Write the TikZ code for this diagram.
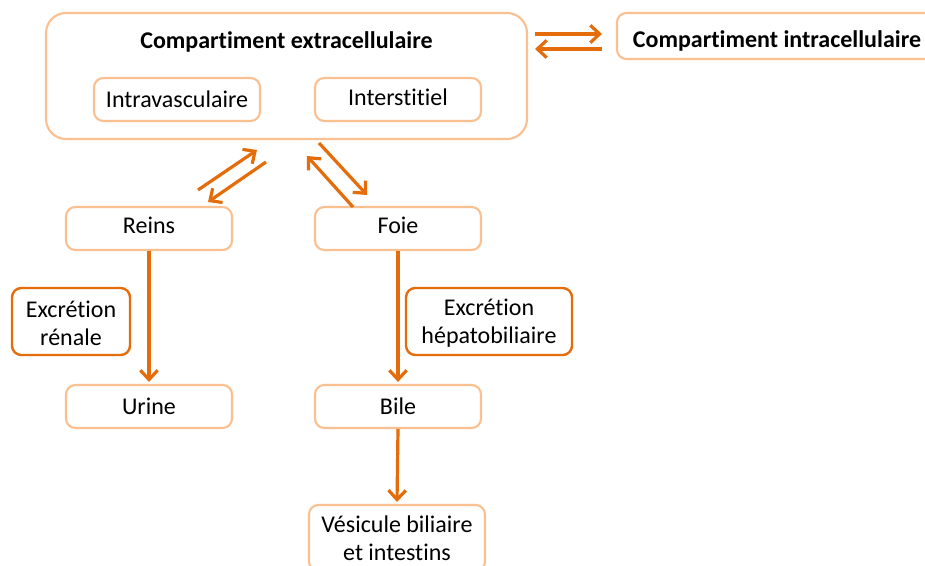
\documentclass[tikz,border=0pt]{standalone}
\usepackage{fontspec}
\setmainfont[Ligatures=NoCommon]{Carlito}
\usetikzlibrary{arrows.meta}
\definecolor{lightor}{RGB}{250,192,144}
\definecolor{darkor}{RGB}{228,108,10}
\tikzset{
  lbox/.style={draw=lightor, line width=1.6pt, rounded corners=7pt, fill=white, inner sep=0pt},
  dbox/.style={draw=darkor, line width=1.8pt, rounded corners=7pt, fill=white, inner sep=0pt, align=center},
  arr/.style={draw=darkor, line width=2.4pt, -{Straight Barb[length=7pt,width=13pt,line width=2.4pt]}},
  txt/.style={font=\fontsize{18pt}{21pt}\selectfont},
  btxt/.style={font=\bfseries\fontsize{18pt}{21pt}\selectfont},
  smallbox/.style={lbox, txt, minimum width=166*0.75pt, minimum height=43*0.75pt},
}
\begin{document}
\begin{tikzpicture}[x=0.75pt,y=-0.75pt]
\useasboundingbox (0,0) rectangle (925,566);
\begin{scope}
\clip (0,0) rectangle (925,566);
% outer box
\node[lbox, rounded corners=15pt, minimum width=481*0.75pt, minimum height=126*0.75pt] (ext) at (286.5,76) {};
\node[btxt] (extl) at (286.5,42) {Compartiment extracellulaire};
\node[smallbox] (intra) at (177,99.5) {Intravasculaire};
\node[smallbox, text height=9pt, text depth=0pt] (inter) at (398,99.5) {Interstitiel};
\node[lbox, btxt, minimum width=320*0.75pt, minimum height=46*0.75pt, text height=18pt, text depth=0pt] (icell) at (777,36) {Compartiment intracellulaire};
\node[smallbox, text height=7pt, text depth=0pt] (reins) at (149,228.5) {Reins};
\node[smallbox, text height=7pt, text depth=0pt] (foie) at (398,228.5) {Foie};
\node[smallbox] (urine) at (149,406.5) {Urine};
\node[smallbox] (bile) at (398,406.5) {Bile};
\node[lbox, txt, align=center, minimum width=176*0.75pt, minimum height=66*0.75pt] (ves) at (397,538) {V\'esicule biliaire\\et intestins};
\node[dbox, minimum width=118*0.75pt, minimum height=67*0.75pt] (exr) at (71,321.5) {};
\node[txt, align=center] (exrt) at ([yshift=-1.5pt]exr.center) {Excr\'etion\\r\'enale};
\node[dbox, minimum width=166*0.75pt, minimum height=67*0.75pt] (exh) at (489,321.5) {};
\node[txt, align=center] (exht) at ([yshift=-1.5pt]exh.center) {Excr\'etion\\h\'epatobiliaire};
\end{scope}
% horizontal exchange
\coordinate (h1s) at (535,34); \coordinate (h1e) at (602,34);
\coordinate (h2s) at (602,49); \coordinate (h2e) at (535,49);
\draw[arr] (h1s) -- (h1e);
\draw[arr] (h2s) -- (h2e);
% left diagonal pair
\coordinate (l1s) at (198,190); \coordinate (l1e) at (257,150);
\coordinate (l2s) at (266,162); \coordinate (l2e) at (208,202);
\draw[arr] (l1s) -- (l1e);
\draw[arr] (l2s) -- (l2e);
% right diagonal pair
\coordinate (r1s) at (319,143); \coordinate (r1e) at (367,195);
\coordinate (r2s) at (353,207); \coordinate (r2e) at (307,156);
\draw[arr] (r1s) -- (r1e);
\draw[arr] (r2s) -- (r2e);
% verticals
\draw[arr] (reins.south) -- ([yshift=1.5pt]urine.north);
\draw[arr] (foie.south) -- ([yshift=1.5pt]bile.north);
\draw[arr] (bile.south) -- ([yshift=1.5pt]ves.north);
\end{tikzpicture}
\end{document}
